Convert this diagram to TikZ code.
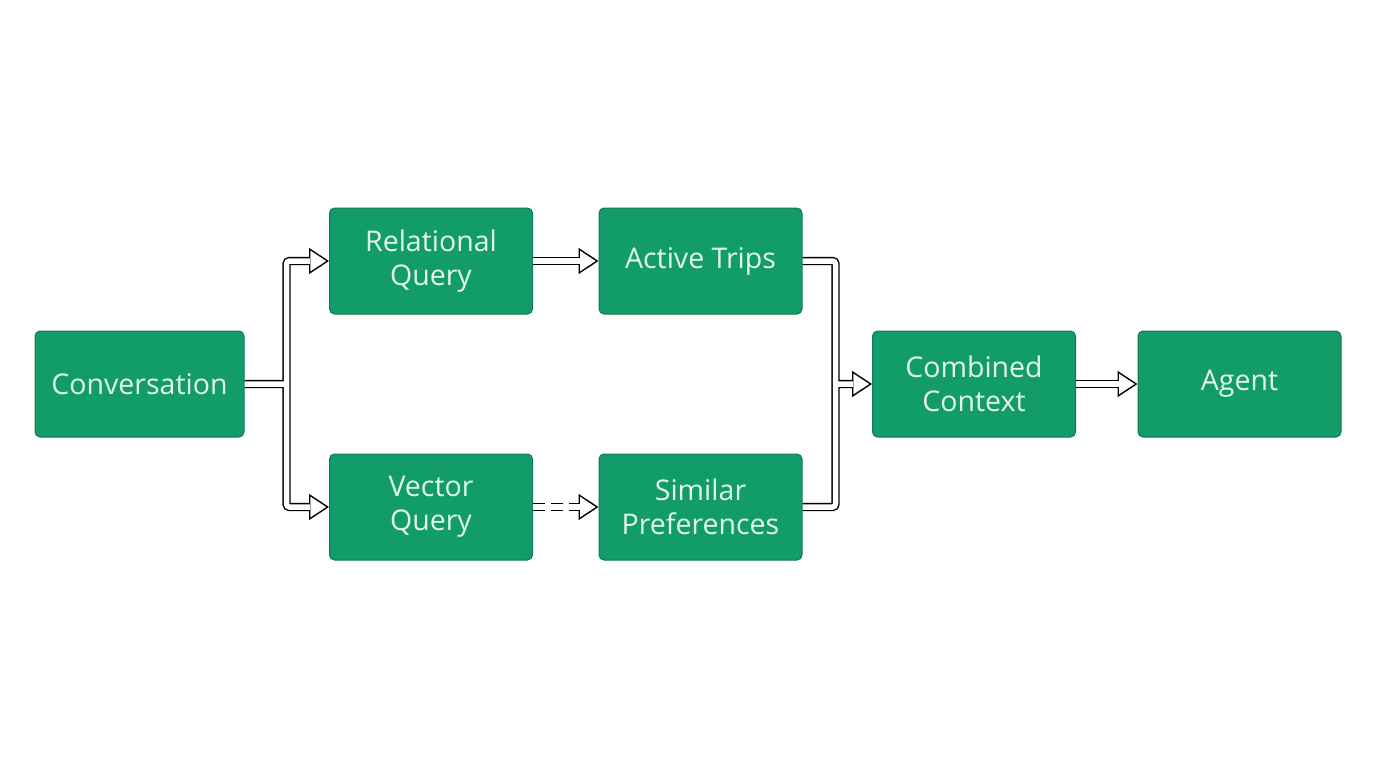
\documentclass[tikz,border=0pt]{standalone}
\usepackage{fontspec}
\setmainfont{Open Sans}
\usetikzlibrary{arrows.meta}
\definecolor{boxgreen}{HTML}{129C6A}
\definecolor{boxedge}{HTML}{0E7A52}
\definecolor{boxtext}{HTML}{E3F6EC}
\begin{document}
\begin{tikzpicture}[x=1pt,y=-1pt,
        pipe/.style={double=white,double distance=5.5pt,line width=1.4pt,rounded corners=3pt},
        headtip/.style={-{Triangle[length=20pt,width=26pt,fill=white,line width=1.4pt]},line width=1.4pt}]
                \useasboundingbox (0,0) rectangle (1376,768);
                \begin{scope}[every node/.style={rectangle,rounded corners=5pt,draw=boxedge,line width=1pt,fill=boxgreen,text=boxtext,
                        minimum width=203pt,minimum height=106pt,align=center,font=\fontsize{28.5}{34}\selectfont}]
                \node (C) at (139.5,384) [minimum width=209pt] {Conversation};
                \node (R) at (431,261)  {Relational\\Query};
                \node (V) at (431,507)  {Vector\\Query};
                \node (T) at (700.5,261)  {Active Trips};
                \node (S) at (700.5,507)  {Similar\\Preferences};
                \node (X) at (974,384)  {Combined\\Context};
                \node (G) at (1239.5,384)  {Agent};
                \end{scope}
                % heads first, shafts over them
                \draw[headtip] ([xshift=-2pt]R.west) -- (R.west);
                \draw[headtip] ([xshift=-2pt]V.west) -- (V.west);
                \draw[headtip] ([xshift=-2pt]T.west) -- (T.west);
                \draw[headtip] ([xshift=-2pt]S.west) -- (S.west);
                \draw[headtip] ([xshift=-2pt]X.west) -- (X.west);
                \draw[headtip] ([xshift=-2pt]G.west) -- (G.west);
                \draw[pipe] ([xshift=-19pt]R.west) -| (286.5,384) |- ([xshift=-19pt]V.west)
                            (C.east) -- (286.5,384);
                \draw[pipe] (R.east) -- ([xshift=-19pt]T.west);
                \draw[pipe,dash pattern=on 12pt off 6pt] (V.east) -- ([xshift=-19pt]S.west);
                \draw[pipe] (T.east) -| (835.5,384) |- (S.east)
                            (835.5,384) -- ([xshift=-19pt]X.west);
                \draw[pipe] (X.east) -- ([xshift=-19pt]G.west);
            \end{tikzpicture}
\end{document}
